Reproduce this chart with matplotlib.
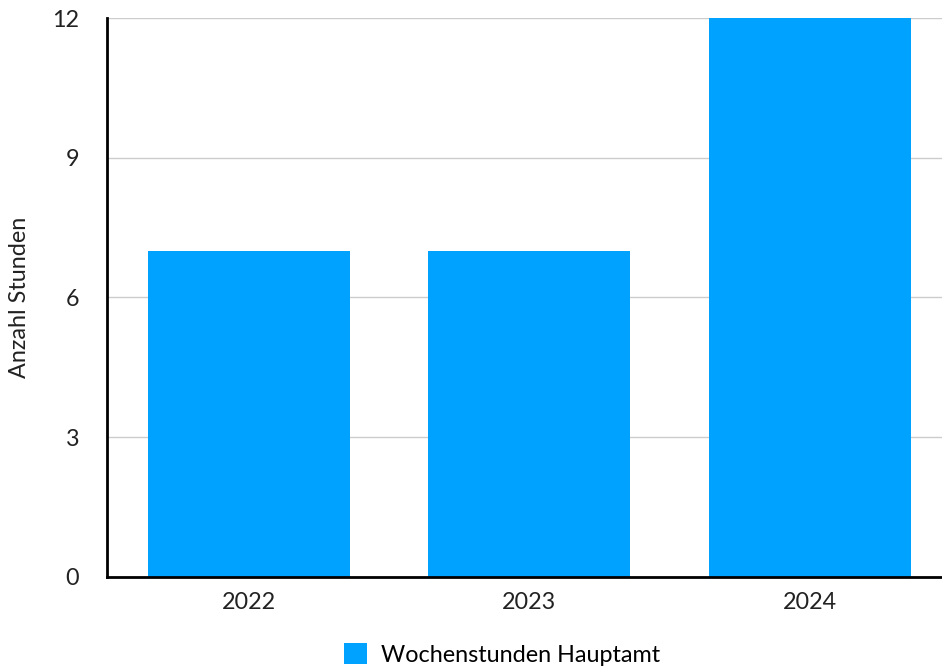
import numpy as np
import matplotlib.pyplot as plt
from matplotlib.patches import Patch

# data
years = ["2022", "2023", "2024"]
hours = [7, 7, 12]
series_name = "Wochenstunden Hauptamt"
y_label = "Anzahl Stunden"
y_ticks = [0, 3, 6, 9, 12]

BAR_COLOR = "#00A2FF"
FS = 16.8

plt.rcParams['font.family'] = ['Lato', 'DejaVu Sans']

fig = plt.figure(figsize=(9.42, 6.72), dpi=100)
ax = fig.add_axes([0.1136, 0.1414, 0.8864, 0.8318])

x = np.arange(len(years))
ax.bar(x, hours, width=0.72, color=BAR_COLOR, zorder=2)

ax.set_xlim(-0.505, 2.47)
ax.set_ylim(0, 12)
ax.set_xticks(x)
ax.set_xticklabels(years)
ax.set_yticks(y_ticks)
ax.yaxis.grid(True, color="#cccccc", linewidth=1, zorder=0)
ax.tick_params(axis="both", length=0, labelsize=FS, colors="#222222")
ax.tick_params(axis="x", pad=11)
ax.tick_params(axis="y", pad=20)

for s in ["top", "right"]:
    ax.spines[s].set_visible(False)
ax.spines["left"].set_linewidth(2)
ax.spines["bottom"].set_linewidth(2)
ax.spines["left"].set_zorder(3)
ax.spines["bottom"].set_zorder(3)

ax.set_ylabel(y_label, fontsize=FS, color="#222222")
ax.yaxis.set_label_coords(-0.092, 0.5)

handle = Patch(facecolor=BAR_COLOR, edgecolor="none")
fig.legend([handle], [series_name], loc="lower center", bbox_to_anchor=(0.533, -0.022),
           frameon=False, fontsize=FS, handlelength=1.0, handleheight=1.0,
           handletextpad=0.6)

fig.savefig("out.png", dpi=100)
